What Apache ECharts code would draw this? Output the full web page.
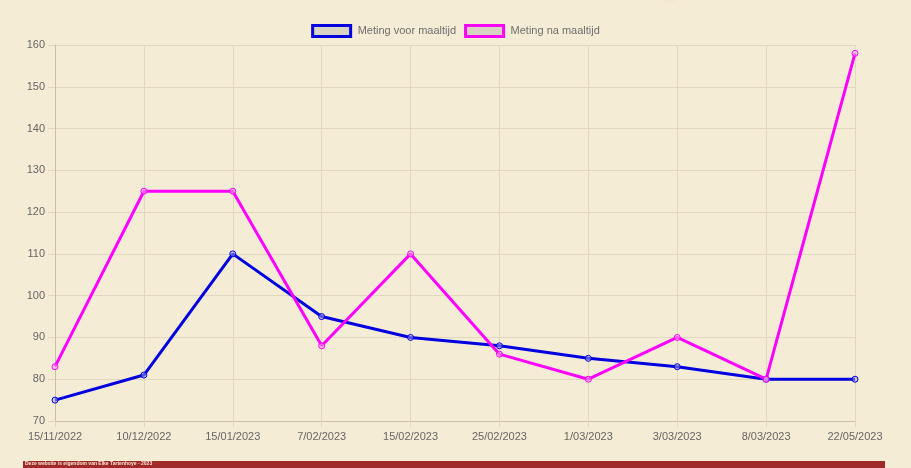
<!DOCTYPE html>
<html>
<head>
<meta charset="utf-8">
<script src="https://cdn.jsdelivr.net/npm/echarts@6/dist/echarts.min.js"></script>
<style>
html,body{margin:0;padding:0;background:#f5ecd5;}
#c{width:911px;height:468px;}
</style>
</head>
<body>
<div id="c"></div>
<script>
var categories = ['15/11/2022','10/12/2022','15/01/2023','7/02/2023','15/02/2023','25/02/2023','1/03/2023','3/03/2023','8/03/2023','22/05/2023'];
var voorMaaltijd = [75, 81, 110, 95, 90, 88, 85, 83, 80, 80];
var naMaaltijd = [83, 125, 125, 88, 110, 86, 80, 90, 80, 158];
var seriesNames = ['Meting voor maaltijd', 'Meting na maaltijd'];
var footerText = 'Deze website is eigendom van Elke Tartenhoye - 2023';

var chart = echarts.init(document.getElementById('c'));
var font = '"Liberation Sans", Arial, sans-serif';
var gridColor = '#e2d8bf';
chart.setOption({
  backgroundColor: '#f5ecd5',
  animation: false,
  textStyle: {fontFamily: font},
  legend: {
    top: 19,
    left: 'center',
    itemWidth: 38,
    itemHeight: 11,
    itemGap: 8,
    icon: 'rect',
    textStyle: {color: '#6e6e6e', fontSize: 11, fontFamily: font, padding: [0,0,0,2]},
    data: [
      {name: seriesNames[0], itemStyle: {color: '#d9d3c3', borderColor: '#0000e0', borderWidth: 3}},
      {name: seriesNames[1], itemStyle: {color: '#d9d3c3', borderColor: '#ff00ff', borderWidth: 3}}
    ]
  },
  grid: {left: 55, right: 56, top: 45, bottom: 47},
  xAxis: {
    type: 'category',
    boundaryGap: false,
    data: categories,
    axisLine: {lineStyle: {color: '#c9bfa5'}},
    axisTick: {show: true, alignWithLabel: true, length: 6, lineStyle: {color: gridColor}},
    axisLabel: {color: '#666', fontSize: 11, margin: 10, fontFamily: font},
    splitLine: {show: true, lineStyle: {color: gridColor}}
  },
  yAxis: {
    type: 'value',
    min: 70, max: 160, interval: 10,
    axisLine: {show: true, lineStyle: {color: '#c9bfa5'}},
    axisTick: {show: true, length: 7, lineStyle: {color: gridColor}},
    axisLabel: {color: '#666', fontSize: 11, margin: 10, fontFamily: font},
    splitLine: {show: true, lineStyle: {color: gridColor}}
  },
  series: [
    {
      name: seriesNames[0], type: 'line', data: voorMaaltijd,
      symbol: 'circle', symbolSize: 6,
      lineStyle: {color: '#0000e0', width: 3},
      itemStyle: {color: 'rgba(170,170,230,0.5)', borderColor: '#0000e0', borderWidth: 1}
    },
    {
      name: seriesNames[1], type: 'line', data: naMaaltijd,
      symbol: 'circle', symbolSize: 6,
      lineStyle: {color: '#ff00ff', width: 3},
      itemStyle: {color: 'rgba(240,180,230,0.5)', borderColor: '#ff00ff', borderWidth: 1}
    }
  ],
  graphic: [
    {
      type: 'ellipse', silent: true,
      shape: {cx: 670, cy: -6, rx: 60, ry: 12},
      style: {fill: {type: 'radial', x: 0.5, y: 0.5, r: 0.5, colorStops: [
        {offset: 0, color: 'rgba(245,205,160,0.9)'}, {offset: 1, color: 'rgba(245,236,213,0)'}]}}
    },
    {
      type: 'rect', silent: true,
      shape: {x: 23, y: 461, width: 862, height: 10},
      style: {fill: '#a0292a'}
    },
    {
      type: 'text', silent: true, left: 25, top: 461.5,
      style: {text: footerText, fill: '#f3e6d0', font: 'bold 5px ' + font}
    }
  ]
});
</script>
</body>
</html>
